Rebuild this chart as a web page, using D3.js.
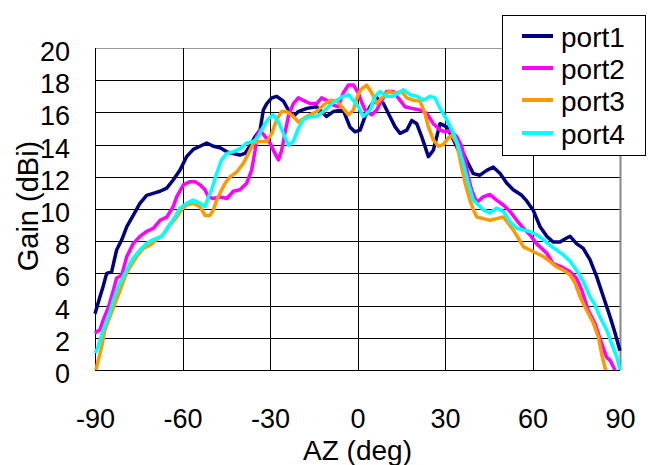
<!DOCTYPE html>
<html><head><meta charset="utf-8">
<script src="https://cdn.jsdelivr.net/npm/d3@7/dist/d3.min.js"></script>
<style>html,body{margin:0;padding:0;background:#fff}svg{display:block;font-family:"Liberation Sans",Arial,sans-serif}</style>
</head><body><svg id="c" width="651" height="465"></svg>
<script>
const xTicks=[-90,-60,-30,0,30,60,90];
const yTicks=[0,2,4,6,8,10,12,14,16,18,20];
const seriesNames=["port1","port2","port3","port4"];
const seriesColors=["#000080","#ff00ff","#ff9900","#00ffff"];

const az1=[-90,-88.3,-87.2,-86,-84.3,-82.6,-80.8,-79.1,-76.9,-74.6,-72.3,-69.5,-67.7,-65.4,-63.2,-60.9,-58.6,-56.3,-54,-51.7,-49.4,-47.1,-44.8,-42.6,-40.3,-38.6,-36.9,-35.1,-33.4,-32.3,-31.1,-29.4,-27.7,-25.4,-23.7,-22,-20.3,-17.4,-14,-10.6,-8.3,-4.9,-2.6,-0.9,0.9,2.6,4.3,6.6,8.9,11.1,12.9,14.6,16.9,18.6,20.3,22,24.3,26,28.3,30.6,32.9,34.6,36.3,38,39.7,42,44.3,46.6,48.9,51.2,53.4,56.3,58,60.3,62.6,64.9,67.1,69.4,71.7,72.9,75.1,77.4,79.7,82,84.3,86.6,88.3,90];
const g1=[3.5,4.55,5.2,6.0,6.1,7.45,8.1,8.9,9.6,10.35,10.85,11.0,11.1,11.3,11.8,12.4,13.25,13.7,13.9,14.1,13.9,13.8,13.55,13.45,13.35,13.45,13.9,14.5,14.9,16.15,16.55,16.9,17.0,16.7,16.15,15.75,16.05,16.25,16.35,15.75,16.05,16.15,15.1,14.8,14.9,15.75,16.35,16.9,16.55,15.75,15.1,14.7,14.9,15.5,15.3,14.5,13.25,13.65,15.3,15.1,14.3,13.65,13.45,12.8,12.2,12.1,12.4,12.6,12.2,11.6,11.2,10.85,10.5,9.9,8.9,8.3,7.95,7.95,8.2,8.3,7.85,7.55,6.85,5.8,4.55,3.3,2.3,1.2];

const az2=[-90,-88.3,-87.2,-85.4,-83.7,-82.6,-80.8,-79.1,-76.9,-74.6,-72.3,-70,-67.7,-65.4,-63.2,-62,-59.7,-57.4,-55.7,-54,-52.3,-51.1,-49.4,-47.1,-44.8,-42.6,-40.3,-38,-36.3,-35.1,-34.6,-33.4,-31.7,-30,-28.3,-27.1,-26,-24.9,-23.7,-22,-20.3,-18.6,-16.3,-14,-12.3,-10.6,-8.3,-6.6,-4.9,-3.1,-1.4,0.3,1.5,2.6,4.9,6.6,8.3,10,12.3,14.6,16.3,18.6,21.4,23.7,26,28.3,30,31.7,34,35.7,36.9,38,39.1,40.9,43.1,45.4,47.7,50,52.3,54.6,56.9,59.1,61.4,64.9,67.1,70,72.9,75.1,76.9,79.1,81.4,83.7,85.4,86.6,87.7,88.3];
const g2=[2.3,2.5,3.1,3.9,4.95,5.7,5.9,7.05,7.85,8.3,8.6,8.8,9.3,9.5,10.15,10.75,11.5,11.7,11.7,11.5,11.2,10.75,10.65,10.75,10.65,11.1,11.2,11.6,12.4,13.65,14.5,14.9,14.5,14.1,13.45,13.05,13.65,14.7,15.75,16.55,16.9,16.75,16.55,16.55,16.9,16.75,16.45,16.35,17.2,17.7,17.7,17.2,16.6,16.15,15.85,16.15,16.75,17.3,17.3,16.75,16.35,16.25,16.15,15.95,15.3,14.9,14.8,14.9,14.5,13.9,13.05,12.0,11.2,10.4,10.75,10.9,10.55,10.25,9.85,9.3,8.8,8.4,7.85,7.25,6.6,6.4,6.1,5.7,4.95,3.7,2.9,1.65,0.8,0.6,0.2,0];

const az3=[-89.7,-88.9,-87.7,-86.6,-84.9,-83.1,-81.4,-79.7,-78,-75.7,-73.4,-71.1,-68.9,-66.6,-64.3,-62,-60.3,-58.6,-56.3,-54,-52.3,-50.6,-49.4,-48.3,-47.1,-45.4,-43.7,-41.4,-39.1,-37.4,-35.7,-33.4,-31.1,-29.4,-27.7,-26,-24.3,-22,-20.3,-18.6,-16.3,-14,-11.7,-9.4,-7.1,-4.9,-3.1,-1.4,0,1,3.1,4.9,6.6,8.3,10.6,12.9,15.1,16.9,19.1,21.4,23.1,24.3,26,27.7,29.4,31.1,32.3,34,35.7,36.9,38.6,39.1,39.7,40.9,43.1,45.4,47.7,50,51.7,53.4,55.1,56.9,59.1,61.4,63.7,66,68.3,70.6,72.9,74.6,76.3,78.6,80.9,82.6,83.7,84.9,85.3];
const g3=[0,0.6,1.45,2.5,3.3,4.15,4.95,5.8,6.4,7.05,7.55,7.75,8.1,8.4,9.0,9.5,9.95,10.25,10.35,10.15,9.6,9.6,9.95,10.55,11.0,11.6,12.0,12.3,12.85,13.45,14.1,14.2,14.2,14.7,15.55,16.05,16.05,15.75,15.4,15.6,15.85,16.05,16.45,16.75,16.7,16.25,15.85,16.15,17.0,17.4,17.7,17.2,16.55,16.9,17.3,17.2,17.3,16.9,16.75,16.7,15.95,15.1,14.3,13.9,14.0,14.4,14.6,14.1,12.6,11.6,10.5,10.3,9.95,9.5,9.4,9.3,9.4,9.5,9.1,8.7,8.2,7.65,7.45,7.25,7.05,6.75,6.4,6.2,5.9,5.4,4.55,3.7,2.9,2.05,1.0,0.1,0];

const az4=[-89.9,-88.9,-87.2,-85.4,-83.7,-82,-80.3,-78.6,-76.9,-74.6,-72.3,-70,-67.1,-64.9,-62.6,-60.9,-58.6,-56.3,-54,-52.3,-51.1,-50,-48.3,-46.6,-44.8,-42.6,-40.3,-38,-35.7,-34,-32.3,-30.6,-28.9,-27.1,-25.4,-23.7,-22,-20.3,-18.6,-16.3,-14,-11.7,-9.4,-7.1,-4.9,-3.1,-1.4,0.3,2,4.3,6,7.7,10,12.3,14,15.7,18,20.3,22.6,24.9,26.6,28.3,30.6,32.9,34.6,36.3,38,39.7,40.9,43.1,45.4,47.7,50,52.3,54.6,56.9,59.1,61.4,63.7,66,68.3,70.6,72.9,75.1,77.4,79.7,81.4,83.1,85.4,87.1,88.9,90];
const g4=[1.05,1.45,2.5,3.3,4.35,5.2,5.8,6.4,6.95,7.45,7.85,8.1,8.3,8.9,9.5,10.05,10.35,10.55,10.35,10.15,10.75,11.2,12.2,13.05,13.45,13.55,13.75,14.1,14.2,14.5,15.1,15.6,15.85,15.4,14.7,13.95,14.2,15.0,15.55,15.75,15.75,16.05,16.45,16.75,17.0,17.1,16.75,16.35,15.75,16.15,17.0,17.3,17.0,17.0,17.2,17.4,17.1,17.0,16.75,17.0,16.9,16.25,15.55,14.7,13.9,12.8,11.6,10.55,10.35,9.95,9.75,10.05,9.85,9.2,8.8,8.7,8.6,8.4,8.1,7.75,7.45,7.15,6.75,6.2,5.5,4.55,4.05,3.3,2.5,1.65,0.8,0];

const azs=[az1,az2,az3,az4], gains=[g1,g2,g3,g4];

const svg=d3.select("#c");
const L=95,R=620,T=48,B=370;
const x=d3.scaleLinear().domain([-90,90]).range([L,R]);
const y=d3.scaleLinear().domain([0,20]).range([B,T]);
const fmt=d=>String(d);

// grid
const grid=svg.append("g");
grid.selectAll("line.h").data(yTicks).join("line")
  .attr("x1",L).attr("x2",R).attr("y1",d=>Math.round(y(d))+0.5).attr("y2",d=>Math.round(y(d))+0.5)
  .attr("stroke",d=>d===20?"#999":"#000").attr("stroke-width",1);
grid.selectAll("line.v").data(xTicks).join("line")
  .attr("y1",T).attr("y2",B).attr("x1",d=>Math.round(x(d))+0.5).attr("x2",d=>Math.round(x(d))+0.5)
  .attr("stroke",d=>d===90?"#888":"#000").attr("stroke-width",d=>d===90?2:1);

// clip
svg.append("clipPath").attr("id","cp").append("rect").attr("x",L-3).attr("y",T-5).attr("width",R-L+6).attr("height",B-T+5);

const line=d3.line().x(d=>x(d[0])).y(d=>y(d[1]));
const lg=svg.append("g").attr("clip-path","url(#cp)");
seriesNames.forEach((n,i)=>{
  const pts=azs[i].map((a,j)=>[a,gains[i][j]]);
  lg.append("path").datum(pts).attr("d",line).attr("fill","none")
    .attr("stroke",seriesColors[i]).attr("stroke-width",3.5).attr("stroke-linejoin","round");
});

// axes via d3
const xa=svg.append("g").attr("transform",`translate(0,${B})`)
  .call(d3.axisBottom(x).tickValues(xTicks).tickSize(0).tickPadding(0).tickFormat(fmt));
xa.select(".domain").remove();
xa.selectAll("text").attr("y",58).attr("dy",null).attr("font-size",27).attr("fill","#000")
  .attr("font-family","Liberation Sans, Arial, sans-serif");

const ya=svg.append("g").attr("transform",`translate(70,0)`)
  .call(d3.axisLeft(y).tickValues(yTicks).tickSize(0).tickPadding(0).tickFormat(fmt));
ya.select(".domain").remove();
ya.selectAll("text").attr("x",0).attr("dy",null).attr("y",12.5).attr("font-size",27).attr("fill","#000")
  .attr("font-family","Liberation Sans, Arial, sans-serif").attr("text-anchor","end");

// axis titles
svg.append("text").attr("x",357.5).attr("y",460).attr("text-anchor","middle").attr("font-size",28).text("AZ (deg)");
svg.append("text").attr("transform","translate(38,206) rotate(-90)").attr("text-anchor","middle").attr("font-size",29).text("Gain (dBi)");

// legend
const leg=svg.append("g");
leg.append("rect").attr("x",502.5).attr("y",15.5).attr("width",143).attr("height",140).attr("fill","#fff").attr("stroke","#000").attr("stroke-width",1);
const ly=[36,68,100,133];
seriesNames.forEach((n,i)=>{
  leg.append("line").attr("x1",522).attr("x2",553).attr("y1",ly[i]).attr("y2",ly[i]).attr("stroke",seriesColors[i]).attr("stroke-width",4);
  leg.append("text").attr("x",561).attr("y",ly[i]+11).attr("font-size",28).text(n);
});
</script></body></html>
